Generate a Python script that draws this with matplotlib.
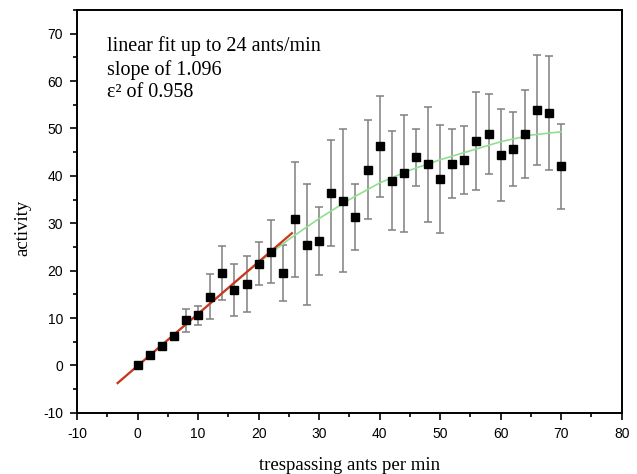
import matplotlib as mpl
mpl.use('Agg')
import matplotlib.pyplot as plt
from matplotlib.ticker import MultipleLocator

plt.rcParams['axes.unicode_minus'] = False

ants = [0, 2, 4, 6, 8, 10, 12, 14, 16, 18, 20, 22, 24, 26, 28, 30, 32, 34,
        36, 38, 40, 42, 44, 46, 48, 50, 52, 54, 56, 58, 60, 62, 64, 66, 68, 70]
activity = [0, 2.2, 4.1, 6.2, 9.5, 10.6, 14.5, 19.5, 15.9, 17.2, 21.5, 24.0,
            19.5, 30.8, 25.5, 26.3, 36.4, 34.8, 31.3, 41.3, 46.2, 39.0, 40.5, 43.9,
            42.4, 39.4, 42.6, 43.4, 47.4, 48.8, 44.3, 45.7, 48.8, 53.9, 53.2, 42.0]
err = [0.5, 0.5, 0.5, 0.6, 2.4, 2.0, 4.8, 5.6, 5.5, 5.9, 4.6, 6.7,
       6.0, 12.2, 12.7, 7.2, 11.2, 15.1, 7.0, 10.5, 10.7, 10.4, 12.4, 6.0,
       12.2, 11.4, 7.2, 7.2, 10.3, 8.4, 9.7, 7.8, 9.3, 11.7, 12.0, 9.0]

# linear fit (red) end points
lin_x = [-3.3, 25.5]
lin_y = [-3.7, 27.9]

# saturating fit (green)
curve_x = [-3.3, 0, 5, 10, 15, 20, 25, 30, 35, 40, 45, 50, 55, 60, 65, 70]
curve_y = [-3.8, -0.1, 5.4, 10.9, 16.3, 21.7, 26.6, 31.0, 35.0, 38.5, 41.2, 43.4,
           45.3, 47.2, 48.6, 49.3]

note = "linear fit up to 24 ants/min\nslope of 1.096\nε² of 0.958"

fig = plt.figure(figsize=(6.37, 4.74), dpi=100)
ax = fig.add_axes([0.121, 0.129, 0.855, 0.850])

ax.plot(curve_x, curve_y, color='#8fe08f', lw=1.2, zorder=2)
ax.plot(lin_x, lin_y, color='#d0321e', lw=1.6, zorder=3)
ax.errorbar(ants, activity, yerr=err, fmt='none', ecolor='#808080',
            elinewidth=1.1, capsize=3, capthick=1.1, zorder=1)
ax.plot(ants, activity, 's', color='black', ms=6, zorder=4)

ax.set_xlim(-10, 80)
ax.xaxis.set_major_locator(MultipleLocator(10))
ax.xaxis.set_minor_locator(MultipleLocator(5))
ax.yaxis.set_minor_locator(MultipleLocator(5))
ax.set_yticks(range(-10, 71, 10))
ax.set_ylim(-10, 75)

for s in ax.spines.values():
    s.set_linewidth(1.4)
ax.tick_params(which='both', direction='out', top=False, right=False,
               width=1.2, labelsize=10, pad=5)
ax.tick_params(which='major', length=5)
ax.tick_params(which='minor', length=3)
for lab in ax.get_xticklabels() + ax.get_yticklabels():
    lab.set_family('Liberation Sans')

ax.set_xlabel("trespassing ants per min", family='Liberation Serif', fontsize=13.5)
ax.set_ylabel("activity", family='Liberation Serif', fontsize=13.5)
ax.xaxis.set_label_coords(0.5, -0.11)
ax.yaxis.set_label_coords(-0.083, 0.46)

ax.text(0.055, 0.935, note, transform=ax.transAxes, va='top', ha='left',
        family='Liberation Serif', fontsize=14.5, linespacing=1.25)

plt.savefig("out.png", dpi=100)
